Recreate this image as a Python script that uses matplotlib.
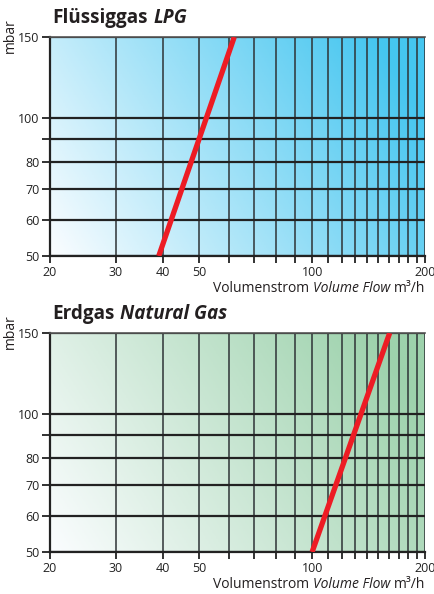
import numpy as np
import matplotlib
matplotlib.use('Agg')
import matplotlib.pyplot as plt
from matplotlib.colors import LinearSegmentedColormap

plt.rcParams['font.family'] = ['Open Sans', 'DejaVu Sans']

# daten
x_grid = [20, 30, 40, 50, 60, 70, 80, 90, 100, 110, 120, 130, 140, 150, 160, 170, 180, 190, 200]
x_labels = [20, 30, 40, 50, 100, 200]
y_grid = [50, 60, 70, 80, 90, 100, 150]
y_labels = [50, 60, 70, 80, 100, 150]

lpg_flow = [39, 62]
lpg_pressure = [50, 150]
ng_flow = [100, 161]
ng_pressure = [50, 150]

W, H = 435, 594
fig = plt.figure(figsize=(W / 100, H / 100), dpi=100)


def fx(px):
    return px / W


def fy(py):
    return 1 - py / H


def panel(top, bottom, flow, pressure, title_a, title_b, col_end):
    ax = fig.add_axes([fx(50), fy(bottom), fx(425) - fx(50), fy(top) - fy(bottom)])
    # verlauf hintergrund
    n = 200
    u, v = np.meshgrid(np.linspace(0, 1, n), np.linspace(0, 1, n))
    t = np.clip(0.8 * u + 0.3 * v, 0, 1)
    cmap = LinearSegmentedColormap.from_list('g', ['#fbfdff', col_end])
    ax.imshow(t, cmap=cmap, origin='lower', extent=[0, 1, 0, 1], transform=ax.transAxes,
              aspect='auto', zorder=0, interpolation='bilinear')
    ax.set_xscale('log')
    ax.set_yscale('log')
    for xv in x_grid:
        ax.axvline(xv, color='#2e3336', lw=1.1, zorder=1)
    for yv in y_grid:
        ax.axhline(yv, color='#222222', lw=1.6, zorder=1)
    ax.plot(flow, pressure, color='#ed1c24', lw=3.8, solid_capstyle='butt', zorder=3)
    ax.set_xlim(20, 200)
    ax.set_ylim(50, 150)
    ax.minorticks_off()
    ax.set_xticks(x_grid)
    ax.set_xticklabels([str(xv) if xv in x_labels else '' for xv in x_grid])
    ax.set_yticks(y_grid)
    ax.set_yticklabels([str(yv) if yv in y_labels else '' for yv in y_grid])
    ax.minorticks_off()
    ax.tick_params(axis='both', length=5, width=1.3, color='#222222', labelsize=9,
                   labelcolor='#222222', pad=2)
    ax.tick_params(axis='y', length=6, pad=1.5)
    for s in ['left', 'bottom']:
        ax.spines[s].set_color('#222222')
        ax.spines[s].set_linewidth(1.6)
    ax.spines['top'].set_color('#555555')
    ax.spines['top'].set_linewidth(1.2)
    ax.spines['right'].set_visible(False)

    # titel
    t1 = fig.text(fx(52), fy(top - 14), title_a, fontsize=13.6, fontweight='bold',
                  color='#231f20', va='baseline')
    ax.annotate(title_b, xy=(1, 0), xycoords=t1, xytext=(4, 0), textcoords='offset points',
                fontsize=13.6, fontweight='bold', style='italic', color='#231f20',
                va='bottom', ha='left', annotation_clip=False)

    # y label
    fig.text(fx(10.5), fy(top - 1), 'mbar', rotation=90, ha='center', va='center',
             fontsize=10, color='#231f20')

    # x label
    base = bottom + 36
    t3 = fig.text(fx(425), fy(base), 'm³/h', ha='right', va='baseline', fontsize=10,
                  color='#231f20')
    t2 = ax.annotate('Volume Flow', xy=(0, 0), xycoords=t3, xytext=(-2.5, 0),
                     textcoords='offset points', ha='right', va='bottom', fontsize=10,
                     style='italic', color='#231f20', annotation_clip=False)
    ax.annotate('Volumenstrom', xy=(0, 0), xycoords=t2, xytext=(-2.5, 0),
                textcoords='offset points', ha='right', va='bottom', fontsize=10,
                color='#231f20', annotation_clip=False)
    return ax


panel(37, 256, lpg_flow, lpg_pressure, 'Flüssiggas', 'LPG', '#45c6f0')
panel(333, 552, ng_flow, ng_pressure, 'Erdgas', 'Natural Gas', '#9dd2ac')

fig.savefig('out.png', dpi=100)
